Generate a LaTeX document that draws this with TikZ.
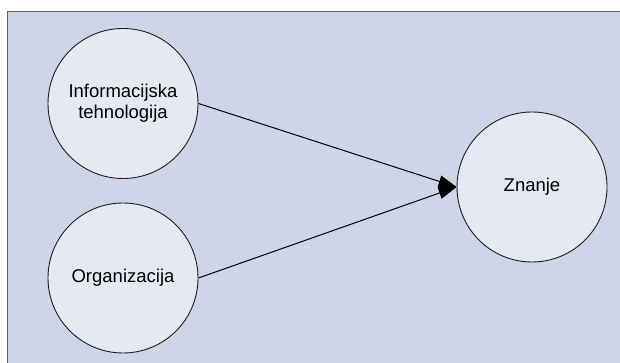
\documentclass[tikz,border=0pt]{standalone}
\usepackage{fontspec}
\setmainfont{Liberation Sans}
\usetikzlibrary{arrows.meta}
\definecolor{panelbg}{HTML}{CFD5E8}
\definecolor{panelframe}{HTML}{5F5F5F}
\definecolor{bubblefill}{HTML}{E6E9F4}
\definecolor{bubbleline}{HTML}{1E1E1E}
\begin{document}
\begin{tikzpicture}[x=1pt,y=1pt,
  bubble/.style={circle, draw=bubbleline, fill=bubblefill, line width=0.9pt,
    minimum size=150pt, inner sep=0pt, align=center,
    font=\fontsize{18.5}{21}\selectfont},
  link/.style={draw=black, line width=1pt,
    -{Triangle[length=18pt,width=12pt]}}]
  \useasboundingbox (0,0) rectangle (620,363);
  % panel behind the diagram
  \path[fill=panelbg, draw=panelframe, line width=1.8pt]
    (7.5,-5) rectangle (630,351.5);
  % concepts
  \node[bubble] (it)  at (123,259.5) {Informacijska\\tehnologija};
  \node[bubble] (org) at (123,85)    {Organizacija};
  \node[bubble] (zn)  at (532,176)   {Znanje};
  % influences
  \draw[link] (it.east)  -- (zn.west);
  \draw[link] (org.east) -- (zn.west);
\end{tikzpicture}
\end{document}
